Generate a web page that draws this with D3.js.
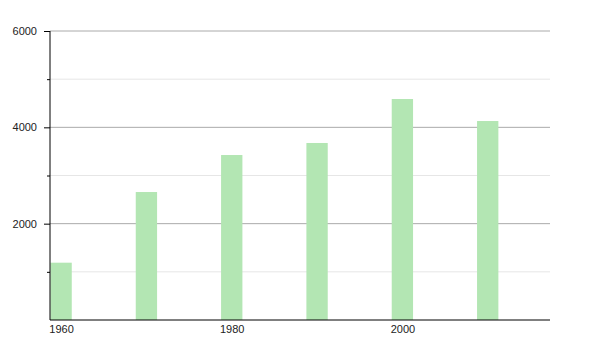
<!DOCTYPE html>
<html>
<head>
<meta charset="utf-8">
<script src="https://cdn.jsdelivr.net/npm/d3@7"></script>
<style>
  body { margin: 0; background: #fff; }
  svg { display: block; font-family: "Liberation Sans", Arial, sans-serif; }
</style>
</head>
<body>
<svg id="chart" width="600" height="350"></svg>
<script>
const years = [1960, 1970, 1980, 1990, 2000, 2010];
const values = [1190, 2657, 3425, 3675, 4588, 4131];
const xTicks = [1960, 1980, 2000];
const majorTicks = [2000, 4000, 6000];
const minorTicks = [1000, 3000, 5000];

const margin = { top: 31, right: 50, bottom: 30, left: 50 };
const width = 600 - margin.left - margin.right;
const height = 350 - margin.top - margin.bottom;
const barYears = 2.5;

const svg = d3.select('#chart');
const g = svg.append('g').attr('transform', `translate(${margin.left},${margin.top})`);

const x = d3.scaleLinear().domain([1958.7, 2017.3]).range([0, width]);
const y = d3.scaleLinear().domain([0, 6000]).range([height, 0]);

// gridlines
g.selectAll('.minor-grid')
  .data(minorTicks)
  .enter()
  .append('line')
  .attr('x1', 0)
  .attr('x2', width)
  .attr('y1', d => y(d))
  .attr('y2', d => y(d))
  .style('stroke', '#e6e6e6');

g.selectAll('.major-grid')
  .data(majorTicks)
  .enter()
  .append('line')
  .attr('x1', 0)
  .attr('x2', width)
  .attr('y1', d => y(d))
  .attr('y2', d => y(d))
  .style('stroke', '#aaaaaa');

// bars
g.selectAll('rect')
  .data(years)
  .enter()
  .append('rect')
  .attr('x', d => x(d - barYears / 2))
  .attr('width', x(1960 + barYears) - x(1960))
  .attr('y', (d, i) => y(values[i]))
  .attr('height', (d, i) => y(0) - y(values[i]))
  .style('fill', '#b3e6b3');

// y axis with major and minor ticks
const yAxis = g.append('g')
  .call(d3.axisLeft(y).tickValues(majorTicks).tickSize(6).tickPadding(7).tickFormat(d3.format('d')));
yAxis.select('.domain').attr('d', `M0,0V${height}`).style('stroke', '#000');
yAxis.selectAll('text').style('font-size', '11px').style('fill', '#222');

g.append('g')
  .call(d3.axisLeft(y).tickValues(minorTicks).tickSize(3).tickFormat(''))
  .select('.domain').remove();

// x axis
const xAxis = g.append('g')
  .attr('transform', `translate(0,${height})`)
  .call(d3.axisBottom(x).tickValues(xTicks).tickSize(0).tickPadding(5).tickFormat(d3.format('d')));
xAxis.select('.domain').attr('d', `M0,0H${width}`).style('stroke', '#000');
xAxis.selectAll('text').style('font-size', '11px').style('fill', '#222');
</script>
</body>
</html>
